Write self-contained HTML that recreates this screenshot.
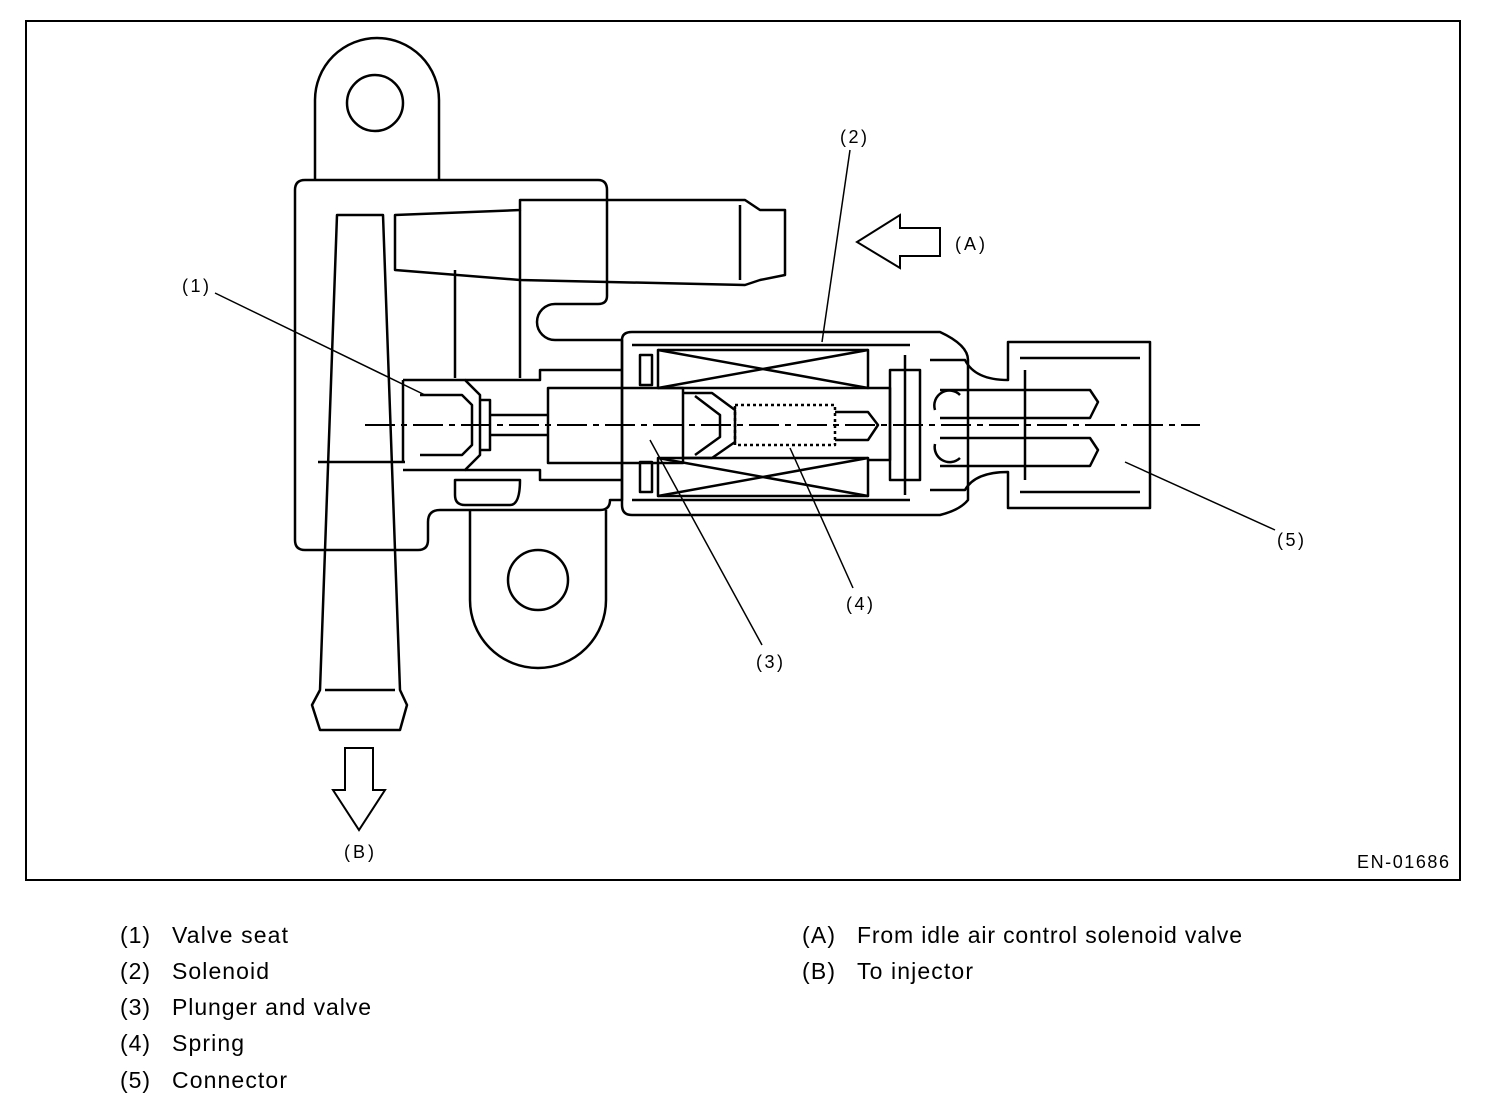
<!DOCTYPE html>
<html><head><style>
html,body{margin:0;padding:0;background:#fff;}
svg{display:block}
text{font-family:"Liberation Sans",sans-serif;fill:#000}
</style></head><body>
<svg width="1504" height="1108" viewBox="0 0 1504 1108" xmlns="http://www.w3.org/2000/svg">
<rect x="26" y="21" width="1434" height="859" fill="none" stroke="#000" stroke-width="2"/>
<g fill="none" stroke="#000" stroke-width="2.5" stroke-linejoin="round">
<path d="M315 180 L315 100 A62 62 0 0 1 439 100 L439 180"/>
<circle cx="375" cy="103" r="28"/>
<path d="M295 190 Q295 180 305 180 L598 180 Q607 180 607 190 L607 296 Q607 304 598 304 L555 304 A18 18 0 0 0 555 340 L622 340 L622 500 L610 500 Q610 510 600 510 L440 510 Q428 510 428 522 L428 540 Q428 550 418 550 L305 550 Q295 550 295 540 Z"/>
<path d="M470 510 L470 600 A68 68 0 0 0 606 600 L606 510"/>
<circle cx="538" cy="580" r="30"/>
<path d="M337 215 L383 215 L400 690 L407 705 L400 730 L320 730 L312 705 L320 690 Z"/>
<path d="M325 690 L395 690"/>
<path d="M318 462 L405 462"/>
<path d="M395 215 L520 210 L520 200 L745 200 L760 210 L785 210 L785 275 L760 280 L745 285 L520 280 L395 270 Z"/>
<path d="M520 210 L520 280 M740 205 L740 280"/>
<path d="M455 270 L455 378 M520 280 L520 378"/>
<path d="M403 380 L403 462 M403 380 L465 380 L480 395 L480 455 L465 470 L403 470"/>
<path d="M420 395 L462 395 L472 405 L472 445 L462 455 L420 455"/>
<path d="M480 400 L490 400 L490 450 L480 450 M490 415 L548 415 M490 435 L548 435"/>
<path d="M465 380 L540 380 L540 370 L622 370 M465 470 L540 470 L540 480 L622 480"/>
<path d="M455 480 L520 480 Q520 505 510 505 L465 505 Q455 505 455 495 Z"/>
<path d="M622 340 Q622 332 632 332 L940 332 Q968 345 968 360 L968 500 Q960 510 940 515 L632 515 Q622 515 622 505 Z"/>
<path d="M632 345 L910 345 M632 500 L910 500"/>
<rect x="658" y="350" width="210" height="38"/>
<path d="M658 350 L868 388 M658 388 L868 350"/>
<rect x="658" y="458" width="210" height="38"/>
<path d="M658 458 L868 496 M658 496 L868 458"/>
<path d="M640 355 L652 355 L652 385 L640 385 Z M640 462 L652 462 L652 492 L640 492 Z"/>
<rect x="548" y="388" width="135" height="75"/>
<path d="M683 393 L712 393 L735 410 L735 442 L712 458 L683 458"/>
<path d="M695 396 L720 415 L720 437 L695 455"/>
<rect x="735" y="405" width="100" height="40" stroke-dasharray="3 3"/>
<path d="M835 412 L868 412 L878 425 L868 440 L835 440"/>
<path d="M868 388 L890 388 L890 460 L868 460"/>
<path d="M890 370 L920 370 L920 480 L890 480 Z M905 355 L905 495"/>
<path d="M930 360 L965 360 Q975 380 1008 380 L1008 342 L1150 342 L1150 508 L1008 508 L1008 472 Q975 472 965 490 L930 490"/>
<path d="M1020 358 L1140 358 M1020 492 L1140 492 M1025 370 L1025 480"/>
<path d="M940 390 L1090 390 L1098 402 L1090 418 L940 418 M940 438 L1090 438 L1098 450 L1090 466 L940 466"/>
<path d="M935 410 A15 15 0 0 1 960 395 M935 444 A15 15 0 0 0 960 458"/>
</g>
<path d="M365 425 L1200 425" stroke="#000" stroke-width="2" stroke-dasharray="30 6 6 6" fill="none"/>
<path d="M940 228 L900 228 L900 215 L857 242 L900 268 L900 256 L940 256 Z" fill="#fff" stroke="#000" stroke-width="2"/>
<path d="M345 748 L373 748 L373 790 L385 790 L359 830 L333 790 L345 790 Z" fill="#fff" stroke="#000" stroke-width="2"/>
<g stroke="#000" stroke-width="1.5">
<line x1="215" y1="293" x2="425" y2="395"/>
<line x1="850" y1="150" x2="822" y2="342"/>
<line x1="650" y1="440" x2="762" y2="645"/>
<line x1="790" y1="448" x2="853" y2="588"/>
<line x1="1125" y1="462" x2="1275" y2="530"/>
</g>
<g font-size="18">
<text x="182" y="292" textLength="27">(1)</text>
<text x="840" y="143" textLength="27">(2)</text>
<text x="756" y="668" textLength="27">(3)</text>
<text x="846" y="610" textLength="27">(4)</text>
<text x="1277" y="546" textLength="27">(5)</text>
<text x="955" y="250" textLength="30">(A)</text>
<text x="344" y="858" textLength="30">(B)</text>
<text x="1357" y="868" textLength="92">EN-01686</text>
</g>
<g font-size="23">
<text x="120" y="943" textLength="30">(1)</text><text x="172" y="943" textLength="116">Valve seat</text>
<text x="120" y="979" textLength="30">(2)</text><text x="172" y="979" textLength="97">Solenoid</text>
<text x="120" y="1015" textLength="30">(3)</text><text x="172" y="1015" textLength="199">Plunger and valve</text>
<text x="120" y="1051" textLength="30">(4)</text><text x="172" y="1051" textLength="72">Spring</text>
<text x="120" y="1088" textLength="30">(5)</text><text x="172" y="1088" textLength="115">Connector</text>
<text x="802" y="943" textLength="33">(A)</text><text x="857" y="943" textLength="385">From idle air control solenoid valve</text>
<text x="802" y="979" textLength="33">(B)</text><text x="857" y="979" textLength="116">To injector</text>
</g>
</svg>
</body></html>
